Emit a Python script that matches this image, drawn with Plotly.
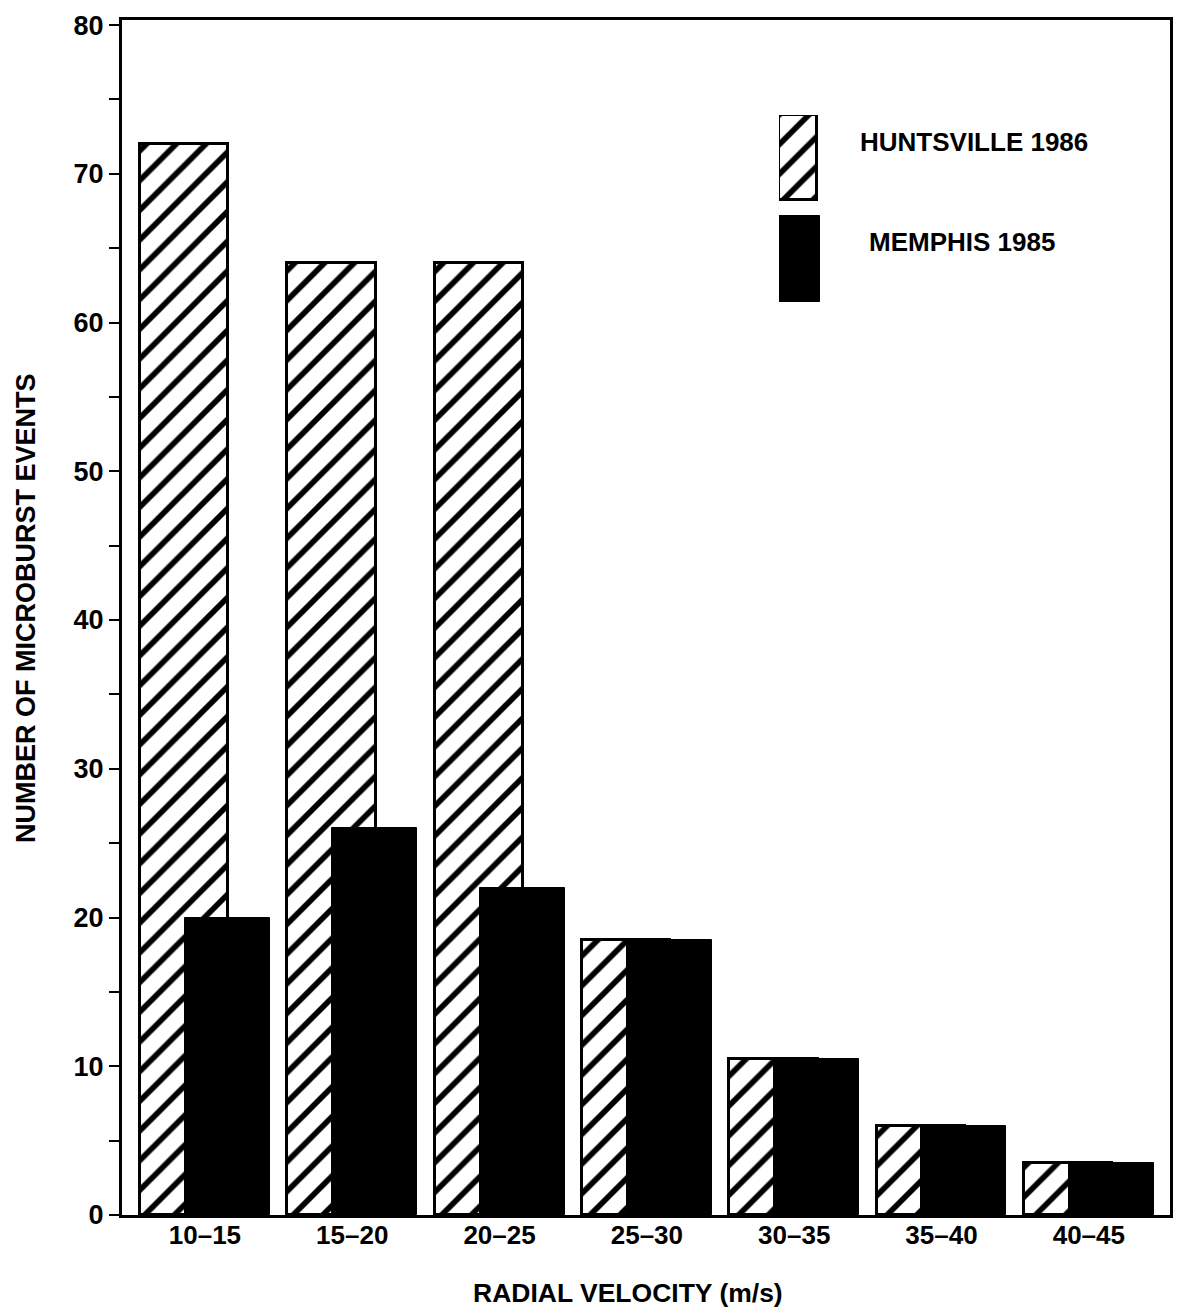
import plotly.graph_objects as go

categories = ["10–15", "15–20", "20–25", "25–30", "30–35", "35–40", "40–45"]
huntsville_1986 = [72, 64, 64, 18.5, 10.5, 6, 3.5]
memphis_1985 = [20, 26, 22, 18.5, 10.5, 6, 3.5]
series_names = ["HUNTSVILLE 1986", "MEMPHIS 1985"]
y_ticks = [0, 10, 20, 30, 40, 50, 60, 70, 80]
x_title = "RADIAL VELOCITY (m/s)"
y_title = "NUMBER OF MICROBURST EVENTS"

W, H = 1179, 1311
FONT = "Liberation Sans"
xpos = list(range(len(categories)))

HATCH = dict(shape="/", fgcolor="black", bgcolor="white", fgopacity=1,
             size=21, solidity=0.27, fillmode="replace")

fig = go.Figure()

fig.add_trace(go.Bar(
    x=xpos, y=huntsville_1986, name=series_names[0],
    width=0.6, offset=-0.441,
    marker=dict(color="white", line=dict(color="black", width=3), pattern=HATCH),
    showlegend=False,
))
fig.add_trace(go.Bar(
    x=xpos, y=memphis_1985, name=series_names[1],
    width=0.577, offset=-0.136,
    marker=dict(color="black", line=dict(color="black", width=1)),
    showlegend=False,
))

# Legend swatches drawn on a small inset axis
fig.add_trace(go.Bar(
    x=[0], y=[0.455], base=[0.545], width=[0.927], offset=0,
    xaxis="x2", yaxis="y2", showlegend=False, hoverinfo="skip",
    marker=dict(color="white", line=dict(color="black", width=3), pattern=HATCH),
))
fig.add_trace(go.Bar(
    x=[0], y=[0.46], base=[0], width=[1.0], offset=0,
    xaxis="x2", yaxis="y2", showlegend=False, hoverinfo="skip",
    marker=dict(color="black", line=dict(color="black", width=1)),
))

L, R, T, B = 122, 9, 20, 96
pw = W - L - R
ph = H - T - B


def px(x):
    return (x - L) / pw


def py(y):
    return (H - B - y) / ph


fig.update_layout(
    width=W, height=H,
    margin=dict(l=L, r=R, t=T, b=B, autoexpand=False),
    paper_bgcolor="white", plot_bgcolor="white",
    barmode="overlay", bargap=0,
    font=dict(family=FONT, color="black", size=24),
    xaxis=dict(
        tickmode="array", tickvals=xpos, ticktext=categories,
        range=[-0.563, 6.551], showgrid=False, zeroline=False, automargin=False,
        showline=True, linecolor="black", linewidth=3, mirror=True,
        ticks="", ticklabelstandoff=-5,
        tickfont=dict(family=FONT, size=26, weight="bold"),
    ),
    yaxis=dict(
        range=[0, 80.34], tickvals=y_ticks, showgrid=False, zeroline=False,
        automargin=False,
        showline=True, linecolor="black", linewidth=3, mirror=True,
        ticks="outside", ticklen=10, tickwidth=2, tickcolor="black",
        minor=dict(dtick=5, ticks="outside", ticklen=10, tickwidth=2, tickcolor="black"),
        tickfont=dict(family=FONT, size=27, weight="bold"),
    ),
    xaxis2=dict(domain=[px(779), px(820)], range=[0, 1], anchor="y2",
                visible=False, fixedrange=True),
    yaxis2=dict(domain=[py(302), py(115)], range=[0, 1], anchor="x2",
                visible=False, fixedrange=True),
    annotations=[
        dict(text=series_names[0], x=px(858), y=py(142), xref="paper", yref="paper",
             xanchor="left", yanchor="middle", showarrow=False,
             font=dict(family=FONT, size=26, weight="bold")),
        dict(text=series_names[1], x=px(867), y=py(242), xref="paper", yref="paper",
             xanchor="left", yanchor="middle", showarrow=False,
             font=dict(family=FONT, size=26, weight="bold")),
        dict(text=x_title, x=px(628), y=py(1293), xref="paper", yref="paper",
             xanchor="center", yanchor="middle", showarrow=False,
             font=dict(family=FONT, size=26.5, weight="bold")),
        dict(text=y_title, x=px(26), y=py(608), xref="paper", yref="paper",
             xanchor="center", yanchor="middle", showarrow=False, textangle=-90,
             font=dict(family=FONT, size=27, weight="bold")),
    ],
)

fig.write_html(
    "out.html",
    config={"displayModeBar": False},
    post_script="document.body.style.margin='0px';document.body.style.overflow='hidden';",
)
